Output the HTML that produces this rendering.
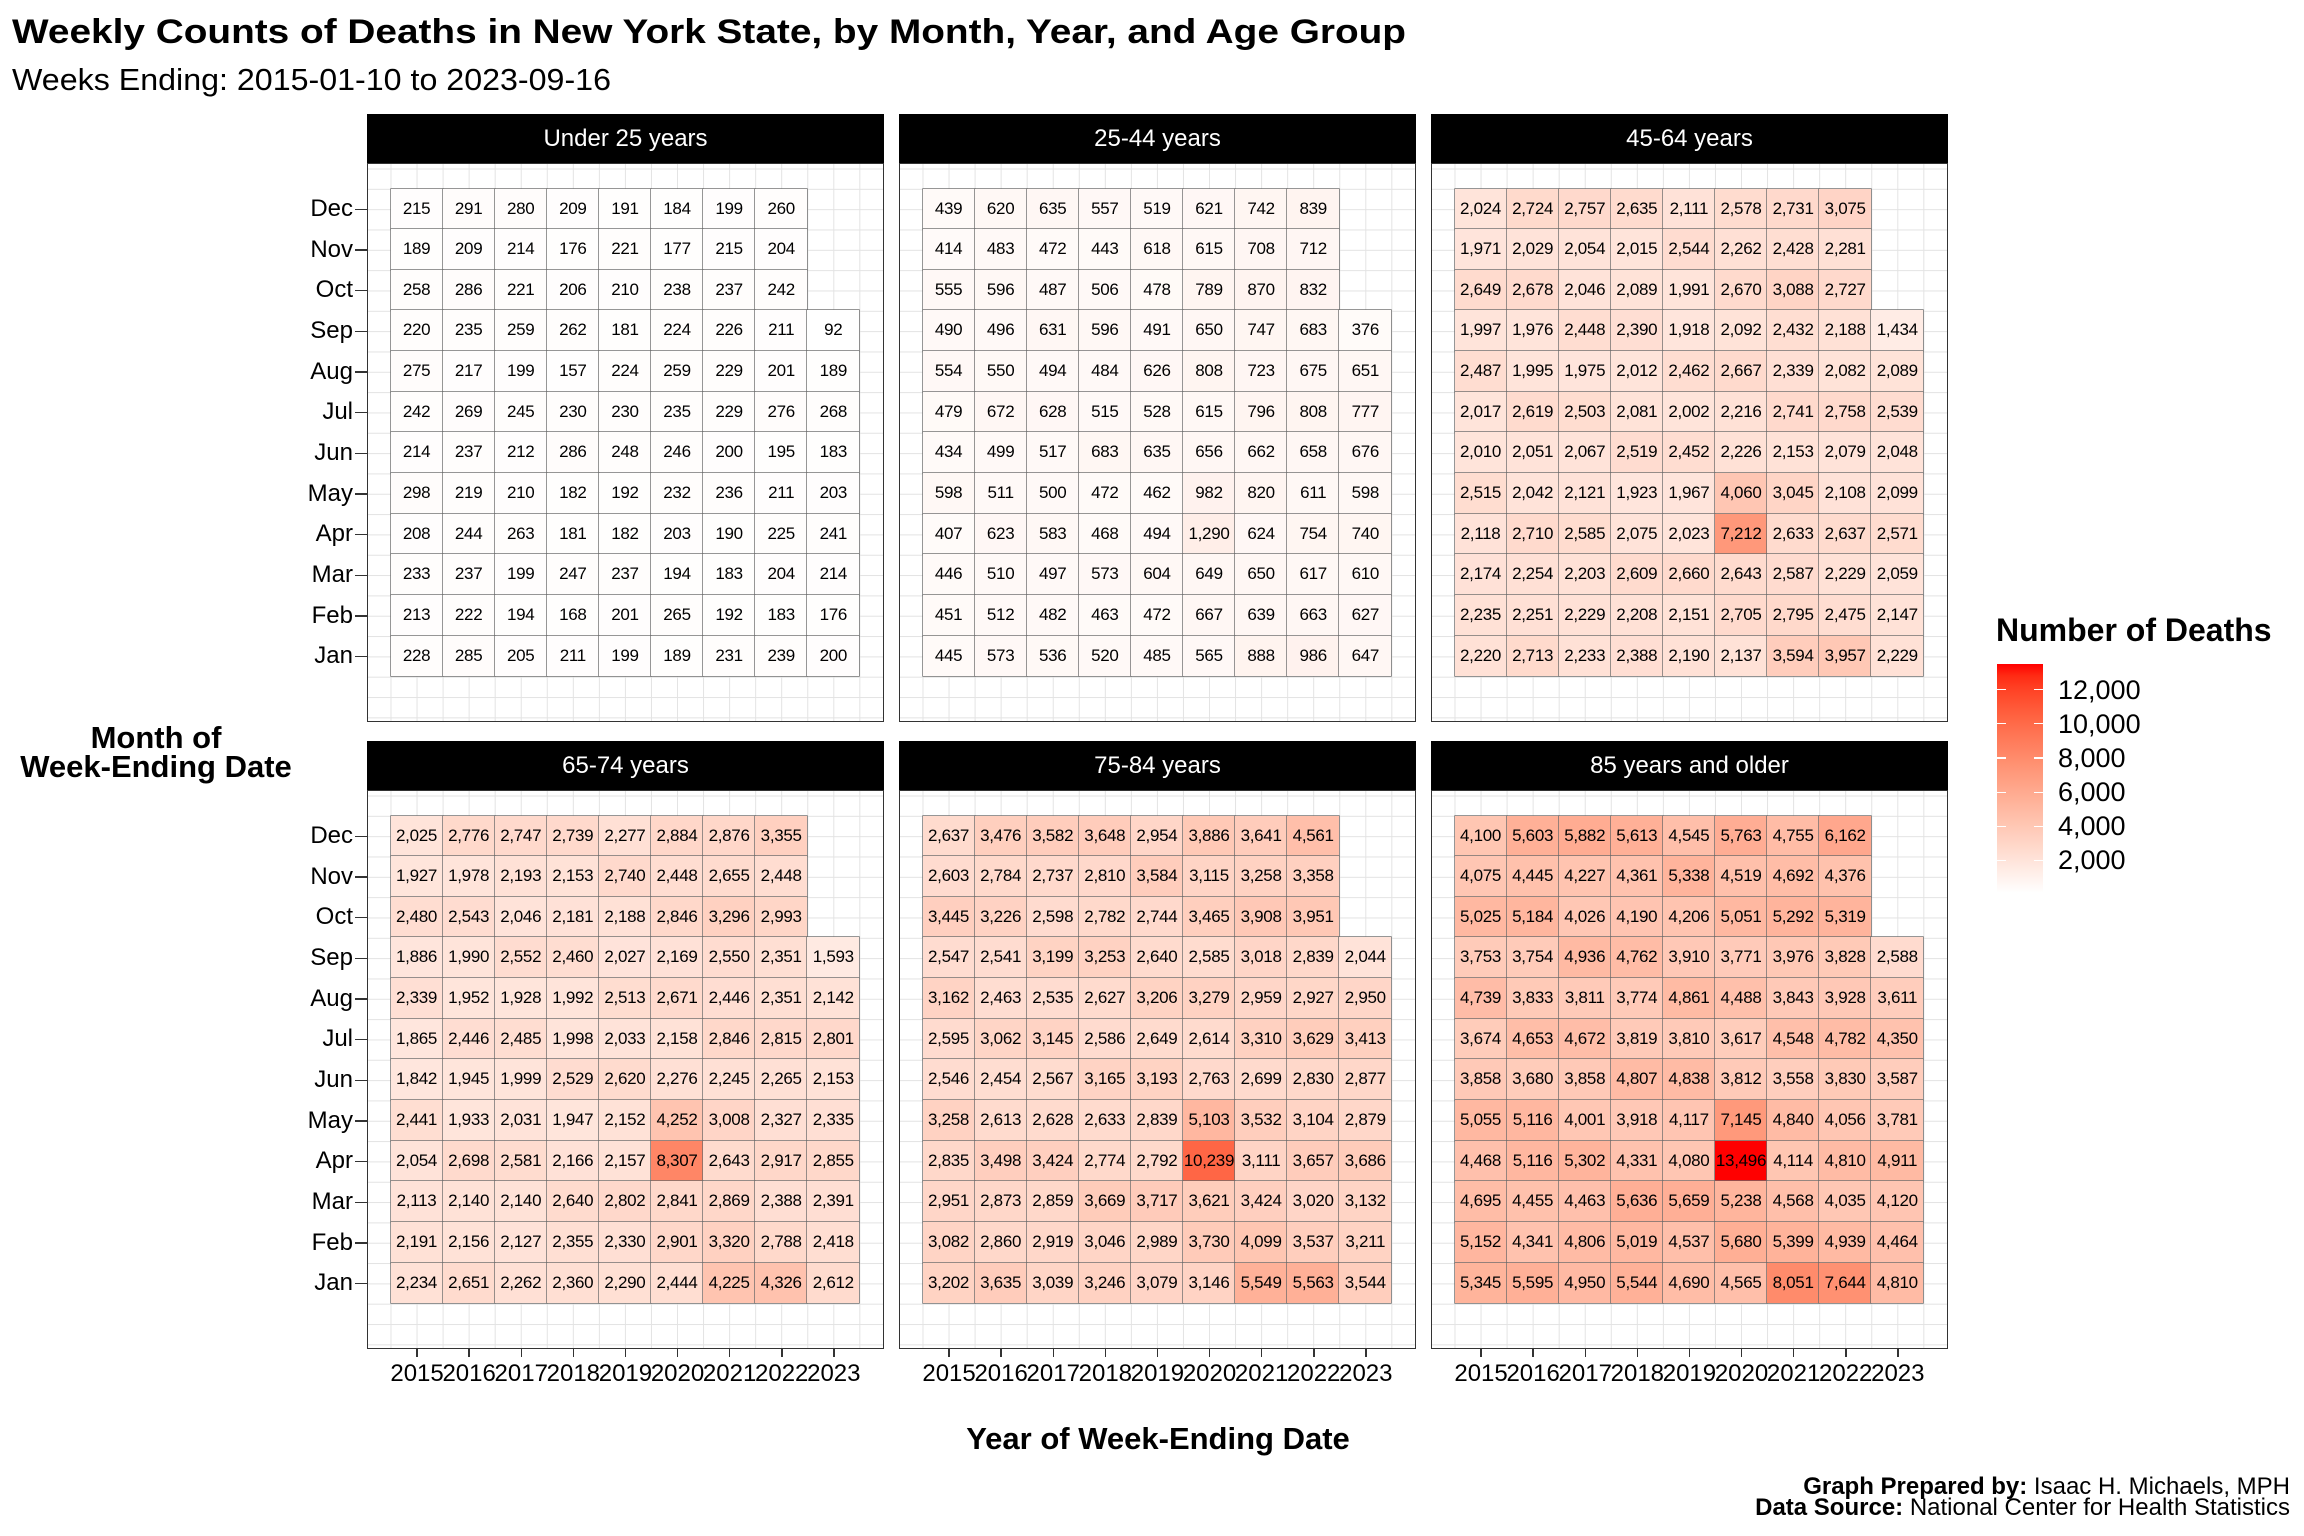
<!DOCTYPE html>
<html><head><meta charset="utf-8">
<style>
*{margin:0;padding:0;box-sizing:border-box}
body{width:2304px;height:1536px;background:#fff;position:relative;overflow:hidden;font-family:"Liberation Sans",Arial,sans-serif;color:#000}
.abs{position:absolute}
.strip{position:absolute;height:49px;width:517px;background:#000;color:#fff;font-size:24px;text-align:center;line-height:49px}
.panel{position:absolute;width:517px;height:559px;border:1.5px solid #333;
 background-image:linear-gradient(90deg,#e3e3e3 1.2px,transparent 1.2px),linear-gradient(180deg,#e3e3e3 1.2px,transparent 1.2px);
 background-size:26.05px 100%,100% 20.333px;background-position:22.5px 0,0 4.5px}
.grid{position:absolute;left:22.5px;top:24.5px;display:grid;grid-template-columns:repeat(9,52.1px);grid-template-rows:repeat(12,40.67px)}
.grid i{font-style:normal;font-size:17px;line-height:40.67px;text-align:center;box-shadow:0 0 0 0.7px #6a6a6a;white-space:nowrap;letter-spacing:-0.3px}
.grid i:empty{box-shadow:none;background:transparent!important}
.months{position:absolute;width:120px;text-align:right;font-size:24px}
.months div{height:40.67px;line-height:40.67px}
.years{position:absolute;display:flex;font-size:24px;top:1360px}
.years div{width:52.1px;text-align:center;line-height:28px;white-space:nowrap;display:flex;justify-content:center}
.years div span{display:inline-block}
.tk{position:absolute;background:#333}
.leg{position:absolute;left:2058px;font-size:27px;line-height:30px}
</style></head><body>
<svg class="abs" style="left:0;top:0" width="2304" height="110">
<text x="12" y="43" font-family="Liberation Sans, Arial, sans-serif" font-weight="bold" font-size="34" textLength="1394" lengthAdjust="spacingAndGlyphs">Weekly Counts of Deaths in New York State, by Month, Year, and Age Group</text>
<text x="12" y="90" font-family="Liberation Sans, Arial, sans-serif" font-size="31" textLength="599" lengthAdjust="spacingAndGlyphs">Weeks Ending: 2015-01-10 to 2023-09-16</text>
</svg>

<div class="abs" style="left:6px;top:723px;width:300px;text-align:center;font-weight:bold;font-size:31px;line-height:29px">Month of<br>Week-Ending Date</div>
<div class="abs" style="left:758px;top:1421px;width:800px;text-align:center;font-weight:bold;font-size:31px">Year of Week-Ending Date</div>
<div class="abs" style="right:14px;top:1476px;text-align:right;font-size:24px;line-height:21px"><b>Graph Prepared by:</b> Isaac H. Michaels, MPH<br><b>Data Source:</b> National Center for Health Statistics</div>

<!-- strips -->
<div class="strip" style="left:367px;top:114px">Under 25 years</div>
<div class="strip" style="left:899px;top:114px">25-44 years</div>
<div class="strip" style="left:1431px;top:114px">45-64 years</div>
<div class="strip" style="left:367px;top:741px">65-74 years</div>
<div class="strip" style="left:899px;top:741px">75-84 years</div>
<div class="strip" style="left:1431px;top:741px">85 years and older</div>

<!-- month labels -->
<div class="months" style="left:233px;top:189px"><div>Dec</div><div>Nov</div><div>Oct</div><div>Sep</div><div>Aug</div><div>Jul</div><div>Jun</div><div>May</div><div>Apr</div><div>Mar</div><div>Feb</div><div>Jan</div></div>
<div class="months" style="left:233px;top:816px"><div>Dec</div><div>Nov</div><div>Oct</div><div>Sep</div><div>Aug</div><div>Jul</div><div>Jun</div><div>May</div><div>Apr</div><div>Mar</div><div>Feb</div><div>Jan</div></div>

<!-- year labels -->
<div class="years" style="left:391px"><div><span>2015</span></div><div><span>2016</span></div><div><span>2017</span></div><div><span>2018</span></div><div><span>2019</span></div><div><span>2020</span></div><div><span>2021</span></div><div><span>2022</span></div><div><span>2023</span></div></div>
<div class="years" style="left:923px"><div><span>2015</span></div><div><span>2016</span></div><div><span>2017</span></div><div><span>2018</span></div><div><span>2019</span></div><div><span>2020</span></div><div><span>2021</span></div><div><span>2022</span></div><div><span>2023</span></div></div>
<div class="years" style="left:1455px"><div><span>2015</span></div><div><span>2016</span></div><div><span>2017</span></div><div><span>2018</span></div><div><span>2019</span></div><div><span>2020</span></div><div><span>2021</span></div><div><span>2022</span></div><div><span>2023</span></div></div>

<!-- panels -->
<div class="panel" style="left:367px;top:163px"><div class="grid">
<i>215</i><i>291</i><i>280</i><i>209</i><i>191</i><i>184</i><i>199</i><i>260</i><i></i>
<i>189</i><i>209</i><i>214</i><i>176</i><i>221</i><i>177</i><i>215</i><i>204</i><i></i>
<i>258</i><i>286</i><i>221</i><i>206</i><i>210</i><i>238</i><i>237</i><i>242</i><i></i>
<i>220</i><i>235</i><i>259</i><i>262</i><i>181</i><i>224</i><i>226</i><i>211</i><i>92</i>
<i>275</i><i>217</i><i>199</i><i>157</i><i>224</i><i>259</i><i>229</i><i>201</i><i>189</i>
<i>242</i><i>269</i><i>245</i><i>230</i><i>230</i><i>235</i><i>229</i><i>276</i><i>268</i>
<i>214</i><i>237</i><i>212</i><i>286</i><i>248</i><i>246</i><i>200</i><i>195</i><i>183</i>
<i>298</i><i>219</i><i>210</i><i>182</i><i>192</i><i>232</i><i>236</i><i>211</i><i>203</i>
<i>208</i><i>244</i><i>263</i><i>181</i><i>182</i><i>203</i><i>190</i><i>225</i><i>241</i>
<i>233</i><i>237</i><i>199</i><i>247</i><i>237</i><i>194</i><i>183</i><i>204</i><i>214</i>
<i>213</i><i>222</i><i>194</i><i>168</i><i>201</i><i>265</i><i>192</i><i>183</i><i>176</i>
<i>228</i><i>285</i><i>205</i><i>211</i><i>199</i><i>189</i><i>231</i><i>239</i><i>200</i>
</div></div>

<div class="panel" style="left:899px;top:163px"><div class="grid">
<i>439</i><i>620</i><i>635</i><i>557</i><i>519</i><i>621</i><i>742</i><i>839</i><i></i>
<i>414</i><i>483</i><i>472</i><i>443</i><i>618</i><i>615</i><i>708</i><i>712</i><i></i>
<i>555</i><i>596</i><i>487</i><i>506</i><i>478</i><i>789</i><i>870</i><i>832</i><i></i>
<i>490</i><i>496</i><i>631</i><i>596</i><i>491</i><i>650</i><i>747</i><i>683</i><i>376</i>
<i>554</i><i>550</i><i>494</i><i>484</i><i>626</i><i>808</i><i>723</i><i>675</i><i>651</i>
<i>479</i><i>672</i><i>628</i><i>515</i><i>528</i><i>615</i><i>796</i><i>808</i><i>777</i>
<i>434</i><i>499</i><i>517</i><i>683</i><i>635</i><i>656</i><i>662</i><i>658</i><i>676</i>
<i>598</i><i>511</i><i>500</i><i>472</i><i>462</i><i>982</i><i>820</i><i>611</i><i>598</i>
<i>407</i><i>623</i><i>583</i><i>468</i><i>494</i><i>1,290</i><i>624</i><i>754</i><i>740</i>
<i>446</i><i>510</i><i>497</i><i>573</i><i>604</i><i>649</i><i>650</i><i>617</i><i>610</i>
<i>451</i><i>512</i><i>482</i><i>463</i><i>472</i><i>667</i><i>639</i><i>663</i><i>627</i>
<i>445</i><i>573</i><i>536</i><i>520</i><i>485</i><i>565</i><i>888</i><i>986</i><i>647</i>
</div></div>

<div class="panel" style="left:1431px;top:163px"><div class="grid">
<i>2,024</i><i>2,724</i><i>2,757</i><i>2,635</i><i>2,111</i><i>2,578</i><i>2,731</i><i>3,075</i><i></i>
<i>1,971</i><i>2,029</i><i>2,054</i><i>2,015</i><i>2,544</i><i>2,262</i><i>2,428</i><i>2,281</i><i></i>
<i>2,649</i><i>2,678</i><i>2,046</i><i>2,089</i><i>1,991</i><i>2,670</i><i>3,088</i><i>2,727</i><i></i>
<i>1,997</i><i>1,976</i><i>2,448</i><i>2,390</i><i>1,918</i><i>2,092</i><i>2,432</i><i>2,188</i><i>1,434</i>
<i>2,487</i><i>1,995</i><i>1,975</i><i>2,012</i><i>2,462</i><i>2,667</i><i>2,339</i><i>2,082</i><i>2,089</i>
<i>2,017</i><i>2,619</i><i>2,503</i><i>2,081</i><i>2,002</i><i>2,216</i><i>2,741</i><i>2,758</i><i>2,539</i>
<i>2,010</i><i>2,051</i><i>2,067</i><i>2,519</i><i>2,452</i><i>2,226</i><i>2,153</i><i>2,079</i><i>2,048</i>
<i>2,515</i><i>2,042</i><i>2,121</i><i>1,923</i><i>1,967</i><i>4,060</i><i>3,045</i><i>2,108</i><i>2,099</i>
<i>2,118</i><i>2,710</i><i>2,585</i><i>2,075</i><i>2,023</i><i>7,212</i><i>2,633</i><i>2,637</i><i>2,571</i>
<i>2,174</i><i>2,254</i><i>2,203</i><i>2,609</i><i>2,660</i><i>2,643</i><i>2,587</i><i>2,229</i><i>2,059</i>
<i>2,235</i><i>2,251</i><i>2,229</i><i>2,208</i><i>2,151</i><i>2,705</i><i>2,795</i><i>2,475</i><i>2,147</i>
<i>2,220</i><i>2,713</i><i>2,233</i><i>2,388</i><i>2,190</i><i>2,137</i><i>3,594</i><i>3,957</i><i>2,229</i>
</div></div>

<div class="panel" style="left:367px;top:790px"><div class="grid">
<i>2,025</i><i>2,776</i><i>2,747</i><i>2,739</i><i>2,277</i><i>2,884</i><i>2,876</i><i>3,355</i><i></i>
<i>1,927</i><i>1,978</i><i>2,193</i><i>2,153</i><i>2,740</i><i>2,448</i><i>2,655</i><i>2,448</i><i></i>
<i>2,480</i><i>2,543</i><i>2,046</i><i>2,181</i><i>2,188</i><i>2,846</i><i>3,296</i><i>2,993</i><i></i>
<i>1,886</i><i>1,990</i><i>2,552</i><i>2,460</i><i>2,027</i><i>2,169</i><i>2,550</i><i>2,351</i><i>1,593</i>
<i>2,339</i><i>1,952</i><i>1,928</i><i>1,992</i><i>2,513</i><i>2,671</i><i>2,446</i><i>2,351</i><i>2,142</i>
<i>1,865</i><i>2,446</i><i>2,485</i><i>1,998</i><i>2,033</i><i>2,158</i><i>2,846</i><i>2,815</i><i>2,801</i>
<i>1,842</i><i>1,945</i><i>1,999</i><i>2,529</i><i>2,620</i><i>2,276</i><i>2,245</i><i>2,265</i><i>2,153</i>
<i>2,441</i><i>1,933</i><i>2,031</i><i>1,947</i><i>2,152</i><i>4,252</i><i>3,008</i><i>2,327</i><i>2,335</i>
<i>2,054</i><i>2,698</i><i>2,581</i><i>2,166</i><i>2,157</i><i>8,307</i><i>2,643</i><i>2,917</i><i>2,855</i>
<i>2,113</i><i>2,140</i><i>2,140</i><i>2,640</i><i>2,802</i><i>2,841</i><i>2,869</i><i>2,388</i><i>2,391</i>
<i>2,191</i><i>2,156</i><i>2,127</i><i>2,355</i><i>2,330</i><i>2,901</i><i>3,320</i><i>2,788</i><i>2,418</i>
<i>2,234</i><i>2,651</i><i>2,262</i><i>2,360</i><i>2,290</i><i>2,444</i><i>4,225</i><i>4,326</i><i>2,612</i>
</div></div>

<div class="panel" style="left:899px;top:790px"><div class="grid">
<i>2,637</i><i>3,476</i><i>3,582</i><i>3,648</i><i>2,954</i><i>3,886</i><i>3,641</i><i>4,561</i><i></i>
<i>2,603</i><i>2,784</i><i>2,737</i><i>2,810</i><i>3,584</i><i>3,115</i><i>3,258</i><i>3,358</i><i></i>
<i>3,445</i><i>3,226</i><i>2,598</i><i>2,782</i><i>2,744</i><i>3,465</i><i>3,908</i><i>3,951</i><i></i>
<i>2,547</i><i>2,541</i><i>3,199</i><i>3,253</i><i>2,640</i><i>2,585</i><i>3,018</i><i>2,839</i><i>2,044</i>
<i>3,162</i><i>2,463</i><i>2,535</i><i>2,627</i><i>3,206</i><i>3,279</i><i>2,959</i><i>2,927</i><i>2,950</i>
<i>2,595</i><i>3,062</i><i>3,145</i><i>2,586</i><i>2,649</i><i>2,614</i><i>3,310</i><i>3,629</i><i>3,413</i>
<i>2,546</i><i>2,454</i><i>2,567</i><i>3,165</i><i>3,193</i><i>2,763</i><i>2,699</i><i>2,830</i><i>2,877</i>
<i>3,258</i><i>2,613</i><i>2,628</i><i>2,633</i><i>2,839</i><i>5,103</i><i>3,532</i><i>3,104</i><i>2,879</i>
<i>2,835</i><i>3,498</i><i>3,424</i><i>2,774</i><i>2,792</i><i>10,239</i><i>3,111</i><i>3,657</i><i>3,686</i>
<i>2,951</i><i>2,873</i><i>2,859</i><i>3,669</i><i>3,717</i><i>3,621</i><i>3,424</i><i>3,020</i><i>3,132</i>
<i>3,082</i><i>2,860</i><i>2,919</i><i>3,046</i><i>2,989</i><i>3,730</i><i>4,099</i><i>3,537</i><i>3,211</i>
<i>3,202</i><i>3,635</i><i>3,039</i><i>3,246</i><i>3,079</i><i>3,146</i><i>5,549</i><i>5,563</i><i>3,544</i>
</div></div>

<div class="panel" style="left:1431px;top:790px"><div class="grid">
<i>4,100</i><i>5,603</i><i>5,882</i><i>5,613</i><i>4,545</i><i>5,763</i><i>4,755</i><i>6,162</i><i></i>
<i>4,075</i><i>4,445</i><i>4,227</i><i>4,361</i><i>5,338</i><i>4,519</i><i>4,692</i><i>4,376</i><i></i>
<i>5,025</i><i>5,184</i><i>4,026</i><i>4,190</i><i>4,206</i><i>5,051</i><i>5,292</i><i>5,319</i><i></i>
<i>3,753</i><i>3,754</i><i>4,936</i><i>4,762</i><i>3,910</i><i>3,771</i><i>3,976</i><i>3,828</i><i>2,588</i>
<i>4,739</i><i>3,833</i><i>3,811</i><i>3,774</i><i>4,861</i><i>4,488</i><i>3,843</i><i>3,928</i><i>3,611</i>
<i>3,674</i><i>4,653</i><i>4,672</i><i>3,819</i><i>3,810</i><i>3,617</i><i>4,548</i><i>4,782</i><i>4,350</i>
<i>3,858</i><i>3,680</i><i>3,858</i><i>4,807</i><i>4,838</i><i>3,812</i><i>3,558</i><i>3,830</i><i>3,587</i>
<i>5,055</i><i>5,116</i><i>4,001</i><i>3,918</i><i>4,117</i><i>7,145</i><i>4,840</i><i>4,056</i><i>3,781</i>
<i>4,468</i><i>5,116</i><i>5,302</i><i>4,331</i><i>4,080</i><i>13,496</i><i>4,114</i><i>4,810</i><i>4,911</i>
<i>4,695</i><i>4,455</i><i>4,463</i><i>5,636</i><i>5,659</i><i>5,238</i><i>4,568</i><i>4,035</i><i>4,120</i>
<i>5,152</i><i>4,341</i><i>4,806</i><i>5,019</i><i>4,537</i><i>5,680</i><i>5,399</i><i>4,939</i><i>4,464</i>
<i>5,345</i><i>5,595</i><i>4,950</i><i>5,544</i><i>4,690</i><i>4,565</i><i>8,051</i><i>7,644</i><i>4,810</i>
</div></div>

<!-- legend -->
<div class="abs" style="left:1996px;top:612px;font-weight:bold;font-size:32px;white-space:nowrap">Number of Deaths</div>
<div id="bar" class="abs" style="left:1997px;top:664px;width:46px;height:229px;background:linear-gradient(0deg,#fff,#ffc3ad,#ff9e81,#ff6e54,#ff0000)"></div>
<div class="leg" style="top:675px">12,000</div>
<div class="leg" style="top:709px">10,000</div>
<div class="leg" style="top:743px">8,000</div>
<div class="leg" style="top:777px">6,000</div>
<div class="leg" style="top:811px">4,000</div>
<div class="leg" style="top:845px">2,000</div>

<script>
(function(){
var MIN=92,MAX=13496;
function finv(t){return t>6/29?t*t*t:3*(6/29)*(6/29)*(t-4/29);}
function g(c){c=Math.max(0,Math.min(1,c));return Math.round(255*(c<=0.0031308?12.92*c:1.055*Math.pow(c,1/2.4)-0.055));}
function col(v){
 var t=Math.max(0,Math.min(1,(v-MIN)/(MAX-MIN)));
 var L=100+(53.2408-100)*t,a=80.0925*t,b=67.2032*t;
 var fy=(L+16)/116,fx=fy+a/500,fz=fy-b/200;
 var X=0.95047*finv(fx),Y=finv(fy),Z=1.08883*finv(fz);
 var r=3.2406*X-1.5372*Y-0.4986*Z,gg=-0.9689*X+1.8758*Y+0.0415*Z,bb=0.0557*X-0.2040*Y+1.0570*Z;
 return 'rgb('+g(r)+','+g(gg)+','+g(bb)+')';
}
document.querySelectorAll('.grid i').forEach(function(e){
 var s=e.textContent.replace(/,/g,'');if(!s)return;e.style.background=col(+s);
});
var st=[];for(var k=0;k<=20;k++){var v=MIN+(MAX-MIN)*k/20;st.push(col(v)+' '+(k*5)+'%');}
document.getElementById('bar').style.background='linear-gradient(0deg,'+st.join(',')+')';
function tk(l,t,w,h,c){var d=document.createElement('div');d.className='tk';d.style.cssText='left:'+l+'px;top:'+t+'px;width:'+w+'px;height:'+h+'px;'+(c?'background:'+c:'');document.body.appendChild(d);}
[189,816].forEach(function(top){for(var r=0;r<12;r++)tk(355,top+20.33+40.67*r-0.75,12,1.5);});
[367,899,1431].forEach(function(px){for(var c=0;c<9;c++)tk(px+24+26.05+52.1*c-0.75,1349,1.5,8);});
[12000,10000,8000,6000,4000,2000].forEach(function(v){var y=893-(v-MIN)/(MAX-MIN)*229;tk(1997,y-0.5,9,1.2,'#fff');tk(2034,y-0.5,9,1.2,'#fff');});
})();
</script>
</body></html>
